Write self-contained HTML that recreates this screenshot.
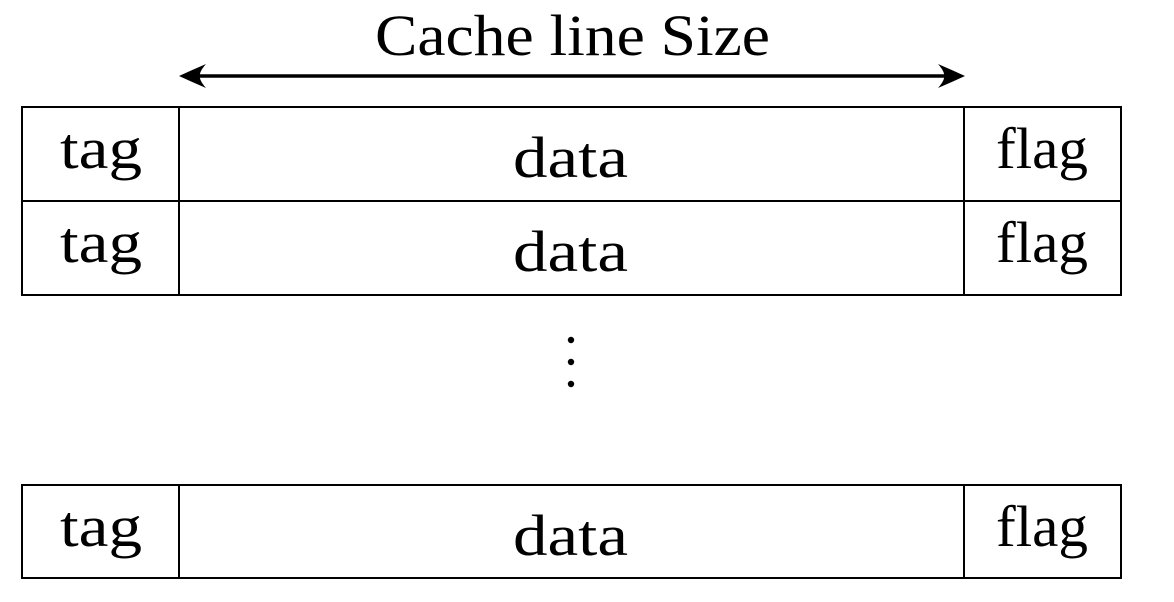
<!DOCTYPE html>
<html><head><style>html,body{margin:0;padding:0;background:#fff}svg{display:block}</style></head>
<body>
<svg width="1174" height="602" viewBox="0 0 1174 602" xmlns="http://www.w3.org/2000/svg" font-family="'Liberation Serif', serif" fill="#000">
<text x="375" y="55" font-size="58" textLength="395" lengthAdjust="spacingAndGlyphs">Cache line Size</text>
<line x1="184" y1="76" x2="960" y2="76" stroke="#000" stroke-width="3.5"/>
<path d="M179 76 Q192 70 206 64 Q199 72 200 76 Q199 80 206 88 Q192 82 179 76 Z"/>
<path d="M965 76 Q952 70 938 64 Q945 72 944 76 Q945 80 938 88 Q952 82 965 76 Z"/>
<g stroke="#000" stroke-width="2" fill="none">
<rect x="22" y="107" width="1099" height="188"/>
<line x1="22" y1="201" x2="1121" y2="201"/>
<line x1="179" y1="107" x2="179" y2="295"/>
<line x1="964" y1="107" x2="964" y2="295"/>
<rect x="22" y="485" width="1099" height="93"/>
<line x1="179" y1="485" x2="179" y2="578"/>
<line x1="964" y1="485" x2="964" y2="578"/>
</g>
<g font-size="58">
<text x="60" y="168" textLength="82" lengthAdjust="spacingAndGlyphs">tag</text>
<text x="513" y="177" textLength="115" lengthAdjust="spacingAndGlyphs">data</text>
<text x="996" y="168" textLength="92" lengthAdjust="spacingAndGlyphs">flag</text>
<text x="60" y="262" textLength="82" lengthAdjust="spacingAndGlyphs">tag</text>
<text x="513" y="271" textLength="115" lengthAdjust="spacingAndGlyphs">data</text>
<text x="996" y="262" textLength="92" lengthAdjust="spacingAndGlyphs">flag</text>
<text x="60" y="546" textLength="82" lengthAdjust="spacingAndGlyphs">tag</text>
<text x="513" y="555" textLength="115" lengthAdjust="spacingAndGlyphs">data</text>
<text x="996" y="546" textLength="92" lengthAdjust="spacingAndGlyphs">flag</text>
</g>
<circle cx="571" cy="340" r="3.2"/>
<circle cx="571" cy="362" r="3.2"/>
<circle cx="571" cy="384" r="3.2"/>
</svg>
</body></html>
